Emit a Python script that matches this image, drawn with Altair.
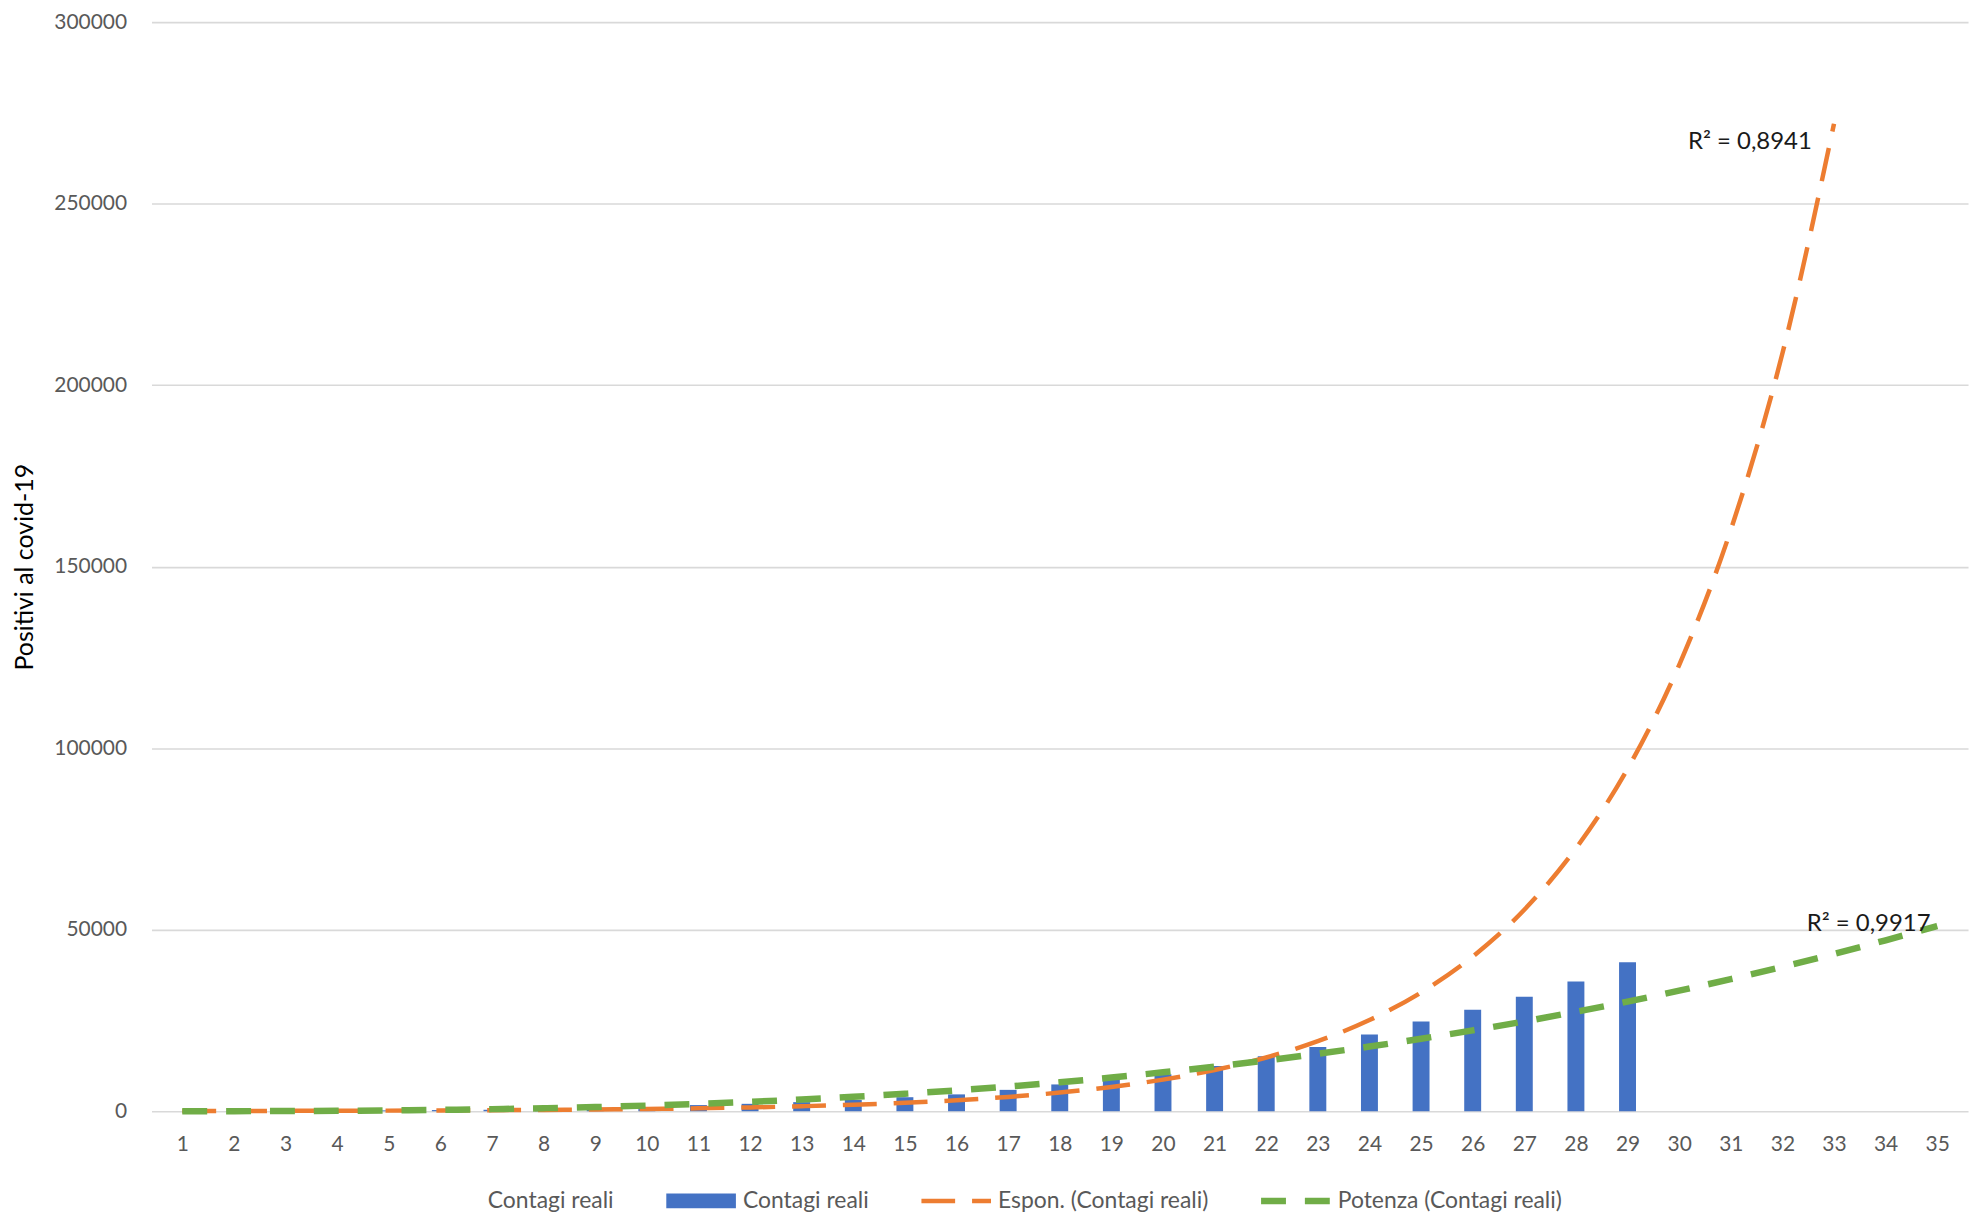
import altair as alt
import pandas as pd

# ---- data ----
giorni = list(range(1, 30))
contagi_reali = [3, 20, 79, 150, 229, 322, 400, 650, 888, 1128, 1694, 2036, 2502, 3089,
                 3858, 4636, 5883, 7375, 9172, 10149, 12462, 15113, 17660, 21157, 24747,
                 27980, 31506, 35713, 41035]

giorni_espon = list(range(1, 34))
espon = [57, 74, 97, 126, 164, 214, 279, 363, 474, 617, 804, 1050, 1370, 1780, 2320,
         3020, 3940, 5130, 6690, 8710, 11350, 14800, 19300, 25100, 32700, 42600, 55500,
         72400, 94300, 122900, 160100, 208700, 272000]

giorni_potenza = list(range(1, 36))
potenza = [2.5, 17, 54, 120, 224, 372, 573, 831, 1153, 1548, 2020, 2576, 3220, 3960,
           4800, 5746, 6807, 7982, 9280, 10710, 12270, 13970, 15820, 17810, 19960, 22270,
           24740, 27380, 30200, 33200, 36380, 39740, 43300, 47080, 51030]

tick_x = list(range(1, 36))
tick_y = [0, 50000, 100000, 150000, 200000, 250000, 300000]

etichette_r2 = ["R² = 0,8941", "R² = 0,9917"]
r2_giorno = [32.57, 34.87]
r2_valore = [267000, 51600]

serie_codici = ["a", "b", "c", "d"]
serie_nomi = ["Contagi reali", "Contagi reali", "Espon. (Contagi reali)", "Potenza (Contagi reali)"]
serie_colori = ["transparent", "#4472C4", "#ED7D31", "#70AD47"]
serie_spessori = [15, 15, 4.5, 6.5]
serie_tratti = [[1, 0], [1, 0], [34, 17], [25, 19]]

# ---- tables ----
df_bar = pd.DataFrame({"giorno": giorni, "valore": contagi_reali})
df_exp = pd.DataFrame({"giorno": giorni_espon, "valore": espon, "serie": "c"})
df_pow = pd.DataFrame({"giorno": giorni_potenza, "valore": potenza, "serie": "d"})
df_r2 = pd.DataFrame({"giorno": r2_giorno, "valore": r2_valore, "etichetta": etichette_r2})

FONT = "Lato"

nomi_js = "[" + ",".join(f"'{n}'" for n in serie_nomi) + "]"
codici_js = "[" + ",".join(f"'{c}'" for c in serie_codici) + "]"

legenda = alt.Legend(
    title=None,
    orient="none",
    direction="horizontal",
    legendX=260.5,
    legendY=1168,
    padding=0,
    clipHeight=30,
    labelExpr=f"{nomi_js}[indexof({codici_js}, datum.value)]",
    labelFont=FONT,
    labelFontSize=23,
    labelColor="#595959",
    labelOffset=30.5,
    labelLimit=400,
    columnPadding=52,
    symbolSize=16,
    symbolOffset=23.5,
    symbolType="M-17.5,0H17.5",
    symbolOpacity=1,
)

x_enc = alt.X(
    "giorno:Q",
    scale=alt.Scale(domain=[0.5, 35.5], nice=False, zero=False),
    axis=alt.Axis(values=tick_x, format="d", title=None, grid=False, ticks=False, tickSize=0,
                  domain=False, labelFont=FONT, labelFontSize=21, labelColor="#595959",
                  labelPadding=22, labelFlush=False, labelOverlap=False),
)
y_enc = alt.Y(
    "valore:Q",
    scale=alt.Scale(domain=[0, 300000], nice=False),
    axis=alt.Axis(values=tick_y, format="d", title="Positivi al covid-19", grid=True,
                  gridColor="#d9d9d9", gridWidth=1.6, ticks=False, tickSize=0, domain=False,
                  labelFont=FONT, labelFontSize=21, labelColor="#595959", labelPadding=25,
                  titleFont=FONT, titleFontSize=25, titleFontWeight="normal",
                  titleColor="#000000", titleAngle=270, titleX=-127, titleY=546.5,
                  titleBaseline="middle", titleAlign="center"),
)
color_enc = alt.Color("serie:N", scale=alt.Scale(domain=serie_codici, range=serie_colori),
                      legend=legenda)
width_enc = alt.StrokeWidth("serie:N",
                            scale=alt.Scale(type="ordinal", domain=serie_codici, range=serie_spessori),
                            legend=legenda)
dash_enc = alt.StrokeDash("serie:N",
                          scale=alt.Scale(type="ordinal", domain=serie_codici, range=serie_tratti),
                          legend=legenda)

barre = alt.Chart(df_bar).mark_bar(size=17, color=serie_colori[1]).encode(x=x_enc, y=y_enc)

linea_exp = alt.Chart(df_exp).mark_line(interpolate="monotone").encode(
    x=x_enc, y=y_enc, color=color_enc, strokeWidth=width_enc, strokeDash=dash_enc)

linea_pow = alt.Chart(df_pow).mark_line(interpolate="monotone").encode(
    x=x_enc, y=y_enc, color=color_enc, strokeWidth=width_enc, strokeDash=dash_enc)

testi = alt.Chart(df_r2).mark_text(
    align="right", baseline="middle", font=FONT, fontSize=24, color="#1a1a1a"
).encode(x=x_enc, y=y_enc, text="etichetta:N")

chart = alt.layer(barre, linea_exp, linea_pow, testi).properties(
    width=1823,
    height=1093,
    padding={"left": 144, "top": 12, "right": 6, "bottom": 100},
    autosize=alt.AutoSizeParams(type="none"),
    background="#ffffff",
).configure(font=FONT).configure_view(strokeWidth=0)

chart.save("out.html", embed_options={"renderer": "svg", "actions": False})
